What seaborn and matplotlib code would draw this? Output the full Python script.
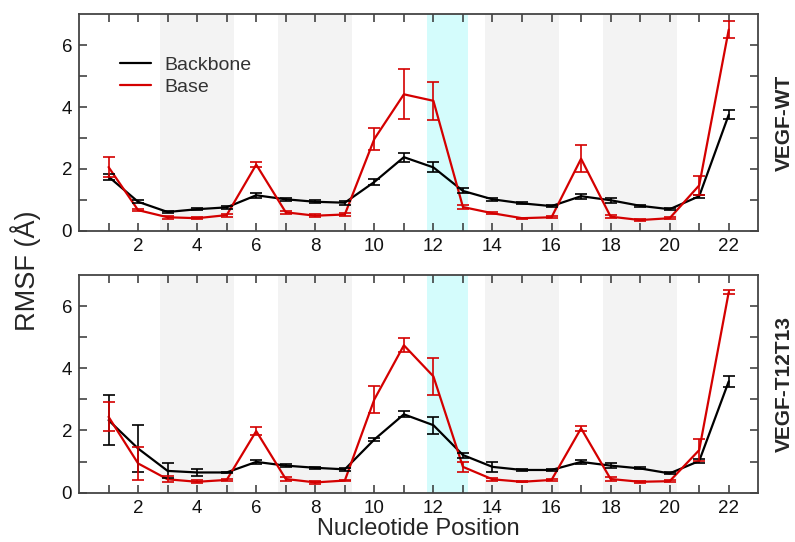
import numpy as np
import pandas as pd
import seaborn as sns
import matplotlib
matplotlib.use("Agg")
import matplotlib.pyplot as plt

sns.set_theme(style="ticks")
plt.rcParams['font.family'] = ['Liberation Sans', 'DejaVu Sans']

positions = list(range(1, 23))

wt_backbone = [1.75, 0.94, 0.61, 0.70, 0.76, 1.15, 1.02, 0.94, 0.91, 1.58, 2.38, 2.05,
               1.29, 1.02, 0.89, 0.80, 1.12, 0.99, 0.81, 0.70, 1.12, 3.75]
wt_backbone_err = [0.10, 0.05, 0.03, 0.03, 0.04, 0.08, 0.05, 0.05, 0.06, 0.10, 0.15, 0.16,
                   0.08, 0.04, 0.03, 0.03, 0.08, 0.08, 0.03, 0.04, 0.05, 0.14]
wt_base = [2.06, 0.67, 0.44, 0.41, 0.51, 2.14, 0.60, 0.49, 0.53, 2.97, 4.41, 4.20,
           0.77, 0.57, 0.41, 0.44, 2.33, 0.46, 0.35, 0.41, 1.47, 6.50]
wt_base_err = [0.33, 0.04, 0.04, 0.03, 0.05, 0.08, 0.05, 0.05, 0.05, 0.35, 0.81, 0.62,
               0.05, 0.04, 0.02, 0.03, 0.44, 0.04, 0.02, 0.03, 0.30, 0.27]

mt_backbone = [2.33, 1.42, 0.70, 0.65, 0.65, 0.99, 0.87, 0.80, 0.75, 1.71, 2.52, 2.17,
               1.21, 0.83, 0.73, 0.73, 0.99, 0.87, 0.78, 0.62, 1.02, 3.58]
mt_backbone_err = [0.80, 0.75, 0.24, 0.12, 0.03, 0.06, 0.06, 0.04, 0.04, 0.06, 0.10, 0.27,
                   0.08, 0.15, 0.02, 0.04, 0.06, 0.08, 0.03, 0.03, 0.05, 0.18]
mt_base = [2.44, 0.94, 0.43, 0.35, 0.41, 1.98, 0.44, 0.33, 0.39, 3.00, 4.74, 3.74,
           0.83, 0.43, 0.35, 0.41, 2.07, 0.44, 0.35, 0.37, 1.37, 6.45]
mt_base_err = [0.47, 0.53, 0.10, 0.05, 0.03, 0.12, 0.08, 0.04, 0.03, 0.43, 0.22, 0.59,
               0.16, 0.04, 0.02, 0.03, 0.08, 0.08, 0.04, 0.03, 0.36, 0.07]

grey_bands = [(2.75, 5.25), (6.75, 9.25), (13.75, 16.25), (17.75, 20.25)]
cyan_band = (11.78, 13.18)

panel_names = ["VEGF-WT", "VEGF-T12T13"]
series_names = ["Backbone", "Base"]
colors = {"Backbone": "#000000", "Base": "#d40000"}

panels = [
    (wt_backbone, wt_backbone_err, wt_base, wt_base_err),
    (mt_backbone, mt_backbone_err, mt_base, mt_base_err),
]

fig = plt.figure(figsize=(7.95, 5.42), dpi=100)
axes = [fig.add_axes([0.0994, 0.574, 0.8544, 0.400]),
        fig.add_axes([0.0994, 0.091, 0.8544, 0.4016])]

for ax, name, (bb, bbe, ba, bae) in zip(axes, panel_names, panels):
    for lo, hi in grey_bands:
        ax.axvspan(lo, hi, color="#f3f3f3", lw=0, zorder=0)
    ax.axvspan(*cyan_band, color="#d4fcfc", lw=0, zorder=0)

    df = pd.DataFrame({
        "pos": positions * 2,
        "rmsf": bb + ba,
        "err": bbe + bae,
        "type": ["Backbone"] * 22 + ["Base"] * 22,
    })
    sns.lineplot(data=df, x="pos", y="rmsf", hue="type", palette=colors,
                 hue_order=series_names, lw=1.6, ax=ax, legend=(ax is axes[0]),
                 zorder=3)
    for s in series_names:
        sub = df[df["type"] == s]
        ax.errorbar(sub["pos"], sub["rmsf"], yerr=sub["err"], fmt="none",
                    ecolor=colors[s], elinewidth=1.2, capsize=4.5, capthick=1.2,
                    zorder=3)

    ax.set_xlim(0, 23)
    ax.set_ylim(0, 7)
    ax.set_xticks(range(1, 23))
    ax.set_xticklabels([str(p) if p % 2 == 0 else "" for p in positions])
    ax.set_yticks(range(0, 7))
    ax.set_yticklabels([str(v) if v % 2 == 0 else "" for v in range(0, 7)])
    ax.tick_params(direction="in", length=6, width=1.1, top=True, right=True,
                   labelsize=13.5, color="#333333", labelcolor="#111111", pad=5)
    for sp in ax.spines.values():
        sp.set_color("#444444")
        sp.set_linewidth(1.3)
    ax.set_xlabel("")
    ax.set_ylabel("")
    ax.text(1.038, 0.5, name, transform=ax.transAxes, rotation=90,
            ha="center", va="center", fontsize=15, fontweight="bold")

axes[0].legend(loc="upper left", bbox_to_anchor=(0.035, 0.885), frameon=False,
               fontsize=14, handlelength=1.6, handletextpad=0.65, labelspacing=0.2,
               labelcolor="#333333")
axes[1].set_xlabel("Nucleotide Position", fontsize=17, labelpad=1)
fig.text(0.032, 0.5, "RMSF (Å)", rotation=90, ha="center", va="center", fontsize=19.5)

fig.savefig("out.png", dpi=100)
